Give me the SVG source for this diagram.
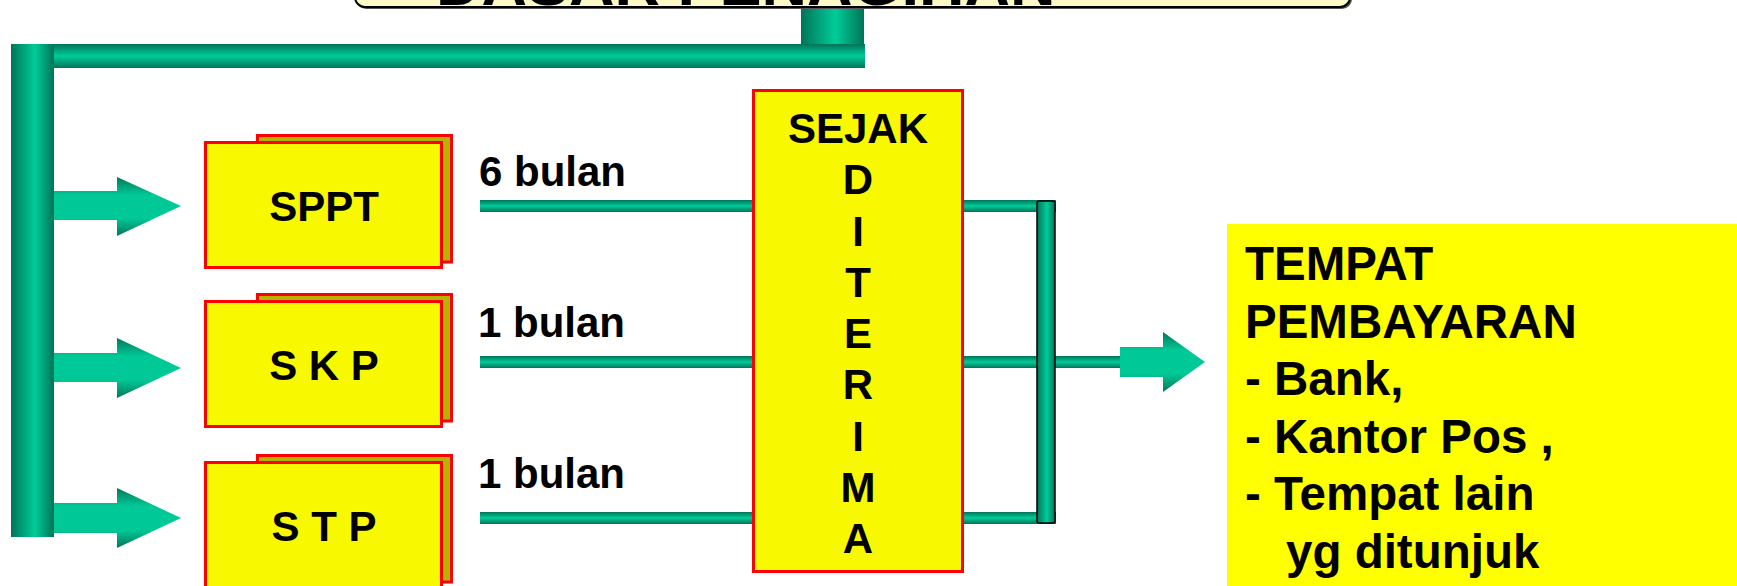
<svg xmlns="http://www.w3.org/2000/svg" width="1737" height="586" viewBox="0 0 1737 586">
  <style>
    text { font-family: "Liberation Sans", Arial, sans-serif; font-weight: bold; fill: #000; }
    .lbl { font-size: 42px; }
    .mid { text-anchor: middle; }
    .info { font-size: 47.5px; }
    .front { fill: #F8F800; stroke: #FF0000; stroke-width: 3; }
    .back { fill: #B4B400; stroke: #FF0000; stroke-width: 3; }
  </style>
  <defs>
    <!-- pipe shading across a vertical pipe -->
    <linearGradient id="pipeV" x1="0" y1="0" x2="1" y2="0">
      <stop offset="0" stop-color="#007458"/>
      <stop offset="0.55" stop-color="#00CC99"/>
      <stop offset="1" stop-color="#007458"/>
    </linearGradient>
    <!-- pipe shading across a horizontal pipe -->
    <linearGradient id="pipeH" x1="0" y1="0" x2="0" y2="1">
      <stop offset="0" stop-color="#007458"/>
      <stop offset="0.5" stop-color="#00CC99"/>
      <stop offset="1" stop-color="#007458"/>
    </linearGradient>
    <!-- block arrow shading: bright body, darker barb tips -->
    <linearGradient id="arrowFill" x1="0" y1="0" x2="0" y2="1">
      <stop offset="0" stop-color="#00785A"/>
      <stop offset="0.3" stop-color="#00C896"/>
      <stop offset="0.7" stop-color="#00C896"/>
      <stop offset="1" stop-color="#00785A"/>
    </linearGradient>
  </defs>

  <rect width="1737" height="586" fill="#FFFFFF"/>

  <!-- distribution pipes, timing lines and arrows -->
  <g id="connectors">
    <rect x="801" y="6" width="63" height="40" fill="url(#pipeV)"/>
    <rect x="11" y="44" width="854" height="24" fill="url(#pipeH)"/>
    <rect x="11" y="44" width="43" height="493" fill="url(#pipeV)"/>

    <polygon points="54,191 117,191 117,177 181,206 117,236 117,220 54,220" fill="url(#arrowFill)"/>
    <polygon points="54,353 117,353 117,338 181,368 117,398 117,382 54,382" fill="url(#arrowFill)"/>
    <polygon points="54,503 117,503 117,488 181,518 117,548 117,533 54,533" fill="url(#arrowFill)"/>

    <rect x="480" y="200" width="576" height="12" fill="url(#pipeH)"/>
    <rect x="480" y="356" width="640" height="12" fill="url(#pipeH)"/>
    <rect x="480" y="512" width="576" height="12" fill="url(#pipeH)"/>

    <rect x="1037" y="201" width="18" height="322" rx="2" fill="url(#pipeV)" stroke="#000" stroke-width="1.5"/>

    <polygon points="1120,347 1163,347 1163,332 1205,362 1163,392 1163,377 1120,377" fill="url(#arrowFill)"/>
  </g>

  <!-- heading banner -->
  <g id="title">
    <rect x="356" y="-58" width="996" height="67" rx="10" fill="#555"/>
    <rect x="355" y="-60" width="995" height="67" rx="10" fill="#FBF9C6" stroke="#000" stroke-width="2"/>
    <text x="436" y="4.5" font-size="63">DASAR PENAGIHAN</text>
  </g>

  <g id="node-sppt">
    <rect class="back" x="257.5" y="135.5" width="194" height="126.5"/>
    <rect class="front" x="205.5" y="142.5" width="236" height="125"/>
    <text class="lbl mid" x="324" y="221">SPPT</text>
  </g>

  <g id="node-skp">
    <rect class="back" x="257.5" y="294.5" width="194" height="126.5"/>
    <rect class="front" x="205.5" y="301.5" width="236" height="125"/>
    <text class="lbl mid" x="324" y="380">S K P</text>
  </g>

  <g id="node-stp">
    <rect class="back" x="257.5" y="455.5" width="194" height="126.5"/>
    <rect class="front" x="205.5" y="462.5" width="236" height="125"/>
    <text class="lbl mid" x="324" y="541">S T P</text>
  </g>

  <g id="label-6-bulan">
    <text class="lbl" x="479" y="186">6 bulan</text>
  </g>
  <g id="label-1-bulan-a">
    <text class="lbl" x="478" y="337">1 bulan</text>
  </g>
  <g id="label-1-bulan-b">
    <text class="lbl" x="478" y="488">1 bulan</text>
  </g>

  <g id="node-sejak-diterima">
    <rect class="front" x="753.5" y="90.5" width="209" height="481"/>
    <text class="lbl mid" x="858" y="143">SEJAK</text>
    <text class="lbl mid" x="858" y="194">D</text>
    <text class="lbl mid" x="858" y="245.5">I</text>
    <text class="lbl mid" x="858" y="296.5">T</text>
    <text class="lbl mid" x="858" y="348">E</text>
    <text class="lbl mid" x="858" y="399">R</text>
    <text class="lbl mid" x="858" y="450.5">I</text>
    <text class="lbl mid" x="858" y="502">M</text>
    <text class="lbl mid" x="858" y="553">A</text>
  </g>

  <g id="node-tempat-pembayaran">
    <rect x="1227" y="224" width="520" height="370" fill="#FFFF00"/>
    <text class="info" x="1245" y="280">TEMPAT</text>
    <text class="info" x="1245" y="337.5">PEMBAYARAN</text>
    <text class="info" x="1245" y="395">- Bank,</text>
    <text class="info" x="1245" y="452.5">- Kantor Pos ,</text>
    <text class="info" x="1245" y="510">- Tempat lain</text>
    <text class="info" x="1286" y="567.5">yg ditunjuk</text>
  </g>
</svg>
